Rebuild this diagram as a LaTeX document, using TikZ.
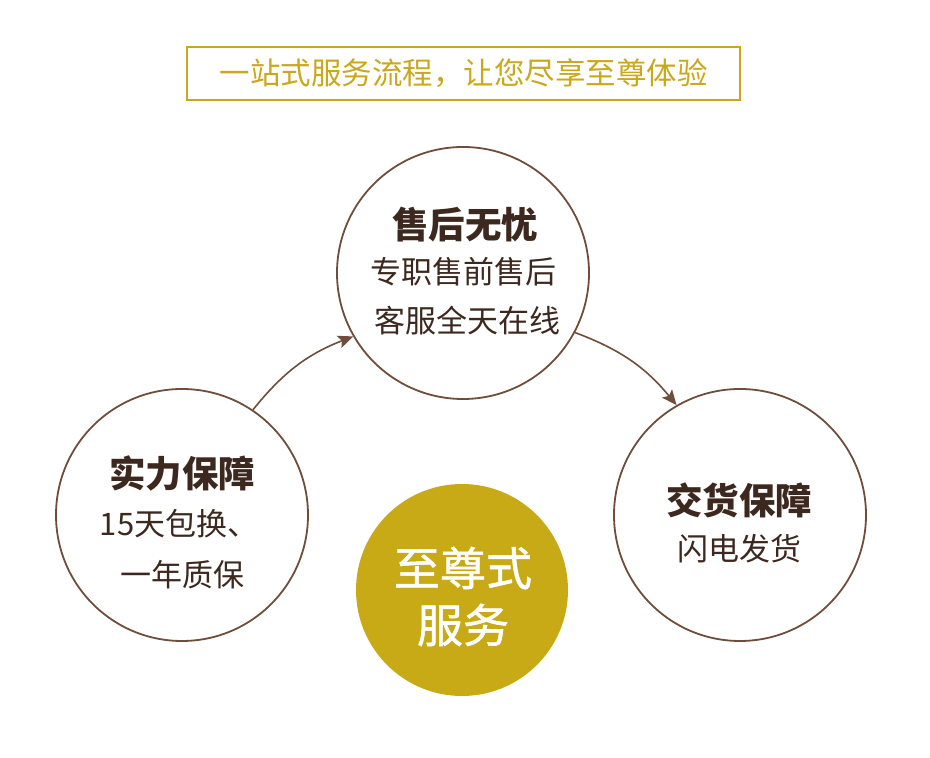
\documentclass[tikz,border=0pt]{standalone}
\usepackage{fontspec}
\setmainfont{Noto Sans CJK SC}
\newfontfamily\cjkmedium[FakeBold=1.2]{Noto Sans CJK SC}
\usetikzlibrary{arrows.meta}
\definecolor{gold}{RGB}{201,168,28}
\definecolor{goldfill}{RGB}{200,170,22}
\definecolor{brownline}{RGB}{110,78,58}
\definecolor{browntext}{RGB}{60,40,30}
\begin{document}
\begin{tikzpicture}[x=1pt,y=1pt,
  ring/.style={draw=brownline,line width=1.8pt,circle,minimum size=252pt,inner sep=0pt},
  head/.style={text=browntext,font=\fontsize{36.5}{42}\selectfont\bfseries},
  body/.style={text=browntext,font=\fontsize{31}{36}\selectfont},
  flow/.style={brownline,line width=1.6pt,-{Stealth[length=15pt,width=13pt,inset=3pt]}}]
\useasboundingbox (0,0) rectangle (930,758);

% title
\node[draw=gold,line width=2pt,minimum width=553pt,minimum height=53pt,inner sep=0pt,
  text=gold,font=\fontsize{30.5}{36}\selectfont] (title) at (463.5,684.5) {一站式服务流程，让您尽享至尊体验};

% three circles
\node[ring] (aftersale) at (463,485) {};
\node[ring] (strength) at (182,243) {};
\node[ring] (delivery) at (740,243) {};

\node[head] (ashead) at (465,533) {售后无忧};
\node[body] (asline1) at (463,486) {专职售前售后};
\node[body] (asline2) at (467,437) {客服全天在线};

\node[head] (sthead) at (182,285) {实力保障};
\node[body] (stline1) at (179,234) {15天包换、};
\node[body] (stline2) at (182,183) {一年质保};

\node[head] (dlhead) at (739,258) {交货保障};
\node[body] (dlline1) at (739,209) {闪电发货};

% centre
\node[circle,fill=goldfill,minimum size=212pt,inner sep=0pt] (core) at (462,168) {};
\node[text=white,font=\cjkmedium\fontsize{46}{54}\selectfont] (coreline1) at (463,190) {至尊式};
\node[text=white,font=\cjkmedium\fontsize{46}{54}\selectfont] (coreline2) at (463,133) {服务};

\draw[flow] (strength.56) to[bend left=15] (aftersale.210);
\draw[flow] (aftersale.332) to[bend left=15] (delivery.120);
\end{tikzpicture}
\end{document}
